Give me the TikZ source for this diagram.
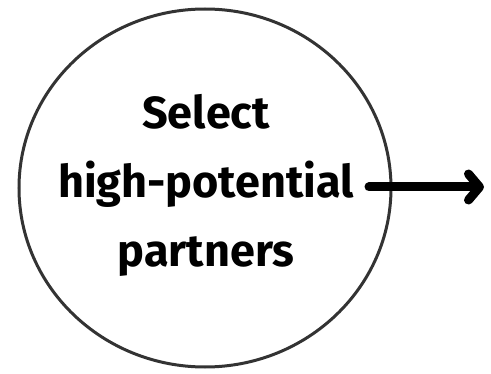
\documentclass[tikz,border=0pt]{standalone}
\usepackage{fontspec}
\setmainfont{Fira Sans}
\usetikzlibrary{arrows.meta, shapes.geometric}

\begin{document}
\begin{tikzpicture}[x=1pt, y=1pt,
        circ/.style={ellipse, draw=black!80, line width=3pt, minimum width=372pt, minimum height=358pt},
        lbl/.style={align=center, inner sep=0pt, font=\fontsize{45}{69}\selectfont\bfseries},
        flow/.style={line width=9pt, line cap=round, -{Straight Barb[length=11pt, width=26pt, line cap=round, line join=round]}}]
    \useasboundingbox (0,0) rectangle (491,373);

    \node[circ] (sel) at (205,185) {};
    \node[lbl]  (txt) at (206,188) {Select\\high-potential\\partners};
    \coordinate (tail) at (369,186);
    \coordinate (head) at (484,186);

    \draw[flow] (tail) -- (head);
\end{tikzpicture}
\end{document}
